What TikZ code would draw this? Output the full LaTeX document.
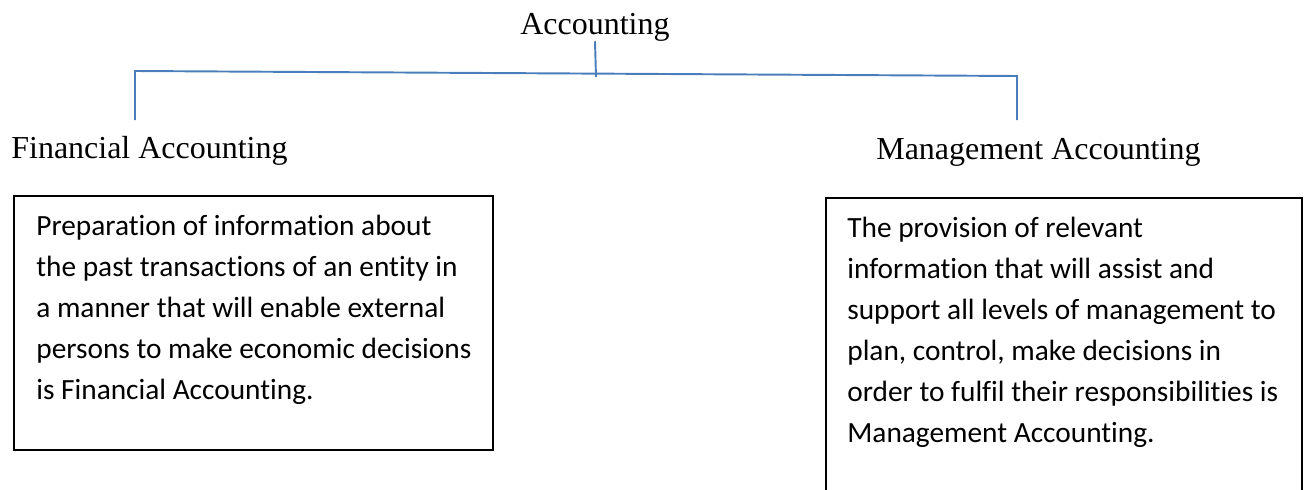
\documentclass[tikz,border=0pt]{standalone}
\usepackage{fontspec}
\setmainfont{Liberation Serif}
\newfontfamily\bodyfont[Ligatures=NoCommon]{Carlito}
\definecolor{linkblue}{HTML}{4A7EBB}

\begin{document}
\begin{tikzpicture}[x=0.02cm, y=-0.02cm,
		every node/.style={inner sep=0pt},
		heading/.style={font=\fontsize{18.2}{22}\selectfont},
		desc/.style={font=\bodyfont\fontsize{16.7}{23.3}\selectfont, align=left, anchor=north west},
		branch/.style={linkblue, line width=1.1pt},
		descbox/.style={black, line width=1.1pt}]
			\useasboundingbox (0,0) rectangle (1309,490);
			\clip (0,0) rectangle (1309,490);

			% Headings
			\node[heading, anchor=base] (acc) at (595,34) {Accounting};
			\node[heading, anchor=base west] (fin) at (11,158) {Financial Accounting};
			\node[heading, anchor=base west] (mgt) at (876,159) {Management Accounting};

			% Branches
			\coordinate (accTick) at (596,77);
			\coordinate (branchL) at (135,71);
			\coordinate (branchR) at (1017,76);
			\coordinate (finEnd) at (135,120);
			\coordinate (mgtEnd) at (1017,120);
			\draw[branch] (acc.south) -- (accTick);
			\draw[branch] (finEnd) -- (branchL) -- (branchR) -- (mgtEnd);

			% Descriptions
			\node[desc] (findesc) at (36,215) {Preparation of information about\\
				the past transactions of an entity in\\
				a manner that will enable external\\
				persons to make economic decisions\\
				is Financial Accounting.};
			\draw[descbox] (14,196) rectangle (493,450);

			\node[desc] (mgtdesc) at (847,217) {The provision of relevant\\
				information that will assist and\\
				support all levels of management to\\
				plan, control, make decisions in\\
				order to fulfil their responsibilities is\\
				Management Accounting.};
			\draw[descbox] (826,520) |- (1302,198) -- (1302,520);
		\end{tikzpicture}
\end{document}
